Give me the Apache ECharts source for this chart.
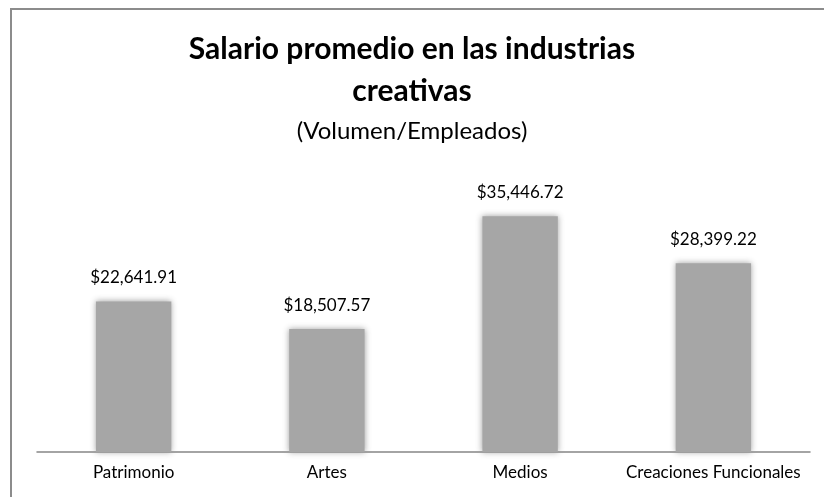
<!DOCTYPE html>
<html>
<head>
<meta charset="utf-8">
<script src="https://cdn.jsdelivr.net/npm/echarts@6/dist/echarts.min.js"></script>
<style>
  html, body { margin: 0; padding: 0; background: #fff; }
  #chart { width: 824px; height: 497px; }
</style>
</head>
<body>
<div id="chart"></div>
<script>
// Average salary per creative-industry group
const categories = ['Patrimonio', 'Artes', 'Medios', 'Creaciones Funcionales'];
const salaries = [22641.91, 18507.57, 35446.72, 28399.22];

const titleText = 'Salario promedio en las industrias\ncreativas';
const subtitleText = '(Volumen/Empleados)';

const fontFamily = 'Lato, "Open Sans", sans-serif';

function money(v) {
  return '$' + v.toLocaleString('en-US', { minimumFractionDigits: 2, maximumFractionDigits: 2 });
}

const chart = echarts.init(document.getElementById('chart'), null, { renderer: 'canvas' });

chart.setOption({
  animation: false,
  backgroundColor: '#ffffff',
  title: {
    text: titleText,
    subtext: subtitleText,
    left: 'center',
    top: 28,
    padding: 0,
    itemGap: 6,
    textStyle: {
      fontFamily: fontFamily,
      fontSize: 30,
      fontWeight: 'bold',
      color: '#000000',
      lineHeight: 42
    },
    subtextStyle: {
      fontFamily: fontFamily,
      fontSize: 24,
      color: '#000000',
      lineHeight: 27
    }
  },
  graphic: [{
    type: 'rect',
    shape: { x: 11, y: 9, width: 900, height: 600 },
    style: { fill: 'none', stroke: '#8c8c8c', lineWidth: 2 },
    silent: true,
    z: 100
  }],
  grid: { left: 37, right: 14, top: 186, bottom: 45 },
  xAxis: {
    type: 'category',
    data: categories,
    axisLine: { lineStyle: { color: '#868686', width: 1.5 } },
    axisTick: { show: false },
    axisLabel: {
      fontFamily: fontFamily,
      fontSize: 17,
      color: '#000000',
      margin: 12,
      interval: 0
    }
  },
  yAxis: {
    type: 'value',
    min: 0,
    max: 40000,
    show: false,
    splitLine: { show: false }
  },
  series: [{
    type: 'bar',
    data: salaries,
    barWidth: '39%',
    itemStyle: {
      color: '#a6a6a6',
      shadowBlur: 6,
      shadowColor: 'rgba(150,150,150,0.9)'
    },
    label: {
      show: true,
      position: 'top',
      distance: 15,
      fontFamily: fontFamily,
      fontSize: 17,
      color: '#000000',
      formatter: p => money(p.value)
    }
  }]
});
</script>
</body>
</html>
